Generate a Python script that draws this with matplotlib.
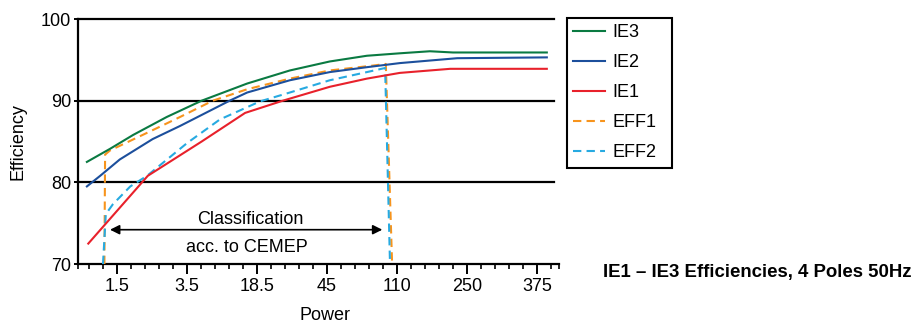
import matplotlib
matplotlib.use("Agg")
import matplotlib.pyplot as plt

plt.rcParams['font.family'] = ['Liberation Sans', 'DejaVu Sans']
plt.rcParams['font.size'] = 13

# x positions are in "tick units": 0 -> 1.5, 1 -> 3.5, ... 6 -> 375
tick_labels = ['1.5', '3.5', '18.5', '45', '110', '250', '375']

ie3_x = [-0.43, -0.10, 0.23, 0.71, 1.21, 1.86, 2.47, 3.04, 3.57, 4.04, 4.47, 4.80, 6.14]
ie3_y = [82.5, 84.1, 85.8, 88.0, 90.0, 92.1, 93.7, 94.8, 95.5, 95.8, 96.05, 95.9, 95.9]

ie2_x = [-0.43, -0.24, 0.04, 0.51, 0.90, 1.61, 1.86, 2.47, 3.04, 3.57, 4.04, 4.86, 6.14]
ie2_y = [79.5, 80.8, 82.8, 85.3, 86.9, 90.0, 91.0, 92.5, 93.5, 94.1, 94.6, 95.2, 95.3]

ie1_x = [-0.41, 0.44, 1.21, 1.83, 2.37, 3.04, 3.57, 4.04, 4.76, 6.14]
ie1_y = [72.5, 80.8, 85.0, 88.5, 90.0, 91.7, 92.7, 93.4, 93.9, 93.9]

eff1_x = [-0.18, -0.17, -0.10, 0.61, 0.90, 1.37, 1.86, 2.47, 3.04, 3.66, 3.84, 3.93]
eff1_y = [70.0, 83.4, 83.9, 86.8, 88.0, 90.0, 91.4, 92.7, 93.7, 94.3, 94.5, 70.0]

eff2_x = [-0.20, -0.16, -0.06, 0.19, 0.43, 1.00, 1.47, 2.04, 2.47, 3.04, 3.57, 3.83, 3.90]
eff2_y = [70.0, 76.1, 77.3, 79.5, 80.8, 84.8, 87.7, 89.9, 91.0, 92.5, 93.5, 94.0, 70.0]

grid_levels = [80, 90, 100]

fig = plt.figure(figsize=(9.15, 3.24), dpi=100)
ax = fig.add_axes([78 / 915, 1 - 264 / 324, 481 / 915, 245 / 324])

lw = 1.5
dash = (0, (4, 2.5))
ax.plot(ie3_x, ie3_y, color='#0a7a42', lw=lw, label='IE3', zorder=4)
ax.plot(ie2_x, ie2_y, color='#1c4f9c', lw=lw, label='IE2', zorder=4)
ax.plot(ie1_x, ie1_y, color='#e8212b', lw=lw, label='IE1', zorder=4)
ax.plot(eff1_x, eff1_y, color='#f7941d', lw=lw, ls=dash, label='EFF1', zorder=3)
ax.plot(eff2_x, eff2_y, color='#27aae1', lw=lw, ls=dash, label='EFF2', zorder=3)

for g in grid_levels:
    ax.axhline(g, xmin=0, xmax=0.99, color='black', lw=1.6, zorder=2, clip_on=False)

ax.set_xlim(-0.557, 6.314)
ax.set_ylim(70, 100)
ax.set_xticks(range(len(tick_labels)))
ax.set_xticklabels(tick_labels)
minor = [-0.557] + [round(-0.4 + 0.2 * k, 2) for k in range(34)] + [6.314]
ax.set_xticks([m for m in minor if abs(m - round(m)) > 0.01], minor=True)
ax.set_yticks([70, 80, 90, 100])

for s in ['top', 'right']:
    ax.spines[s].set_visible(False)
for s in ['left', 'bottom']:
    ax.spines[s].set_linewidth(1.6)
ax.tick_params(axis='x', which='major', length=7, width=1.4, pad=3)
ax.tick_params(axis='x', which='minor', length=3.5, width=1.2)
ax.tick_params(axis='y', length=3, width=1.4, pad=2)

ax.annotate('', xy=(-0.10, 74.2), xytext=(3.79, 74.2),
            arrowprops=dict(arrowstyle='<|-|>', color='black', lw=1.2,
                            mutation_scale=14, shrinkA=0, shrinkB=0))
ax.text(1.91, 75.5, 'Classification', ha='center', va='center')
ax.text(1.86, 72.0, 'acc. to CEMEP', ha='center', va='center')

fig.text(18 / 915, 1 - 142 / 324, 'Efficiency', rotation=90, ha='center', va='center')
fig.text(325 / 915, 1 - 316 / 324, 'Power', ha='center', va='center')
fig.text(603 / 915, 1 - 272 / 324, 'IE1 – IE3 Efficiencies, 4 Poles 50Hz',
         ha='left', va='center', fontweight='bold', fontsize=13.4)

leg = fig.legend(loc='upper left',
                 bbox_to_anchor=(567 / 915, 1 - 167 / 324, 105 / 915, 149 / 324),
                 mode='expand', borderaxespad=0, fancybox=False, framealpha=1,
                 edgecolor='black', borderpad=0.35, labelspacing=0.72,
                 handlelength=1.75, handletextpad=0.4)
leg.get_frame().set_linewidth(1.5)

fig.savefig('out.png', dpi=100)
